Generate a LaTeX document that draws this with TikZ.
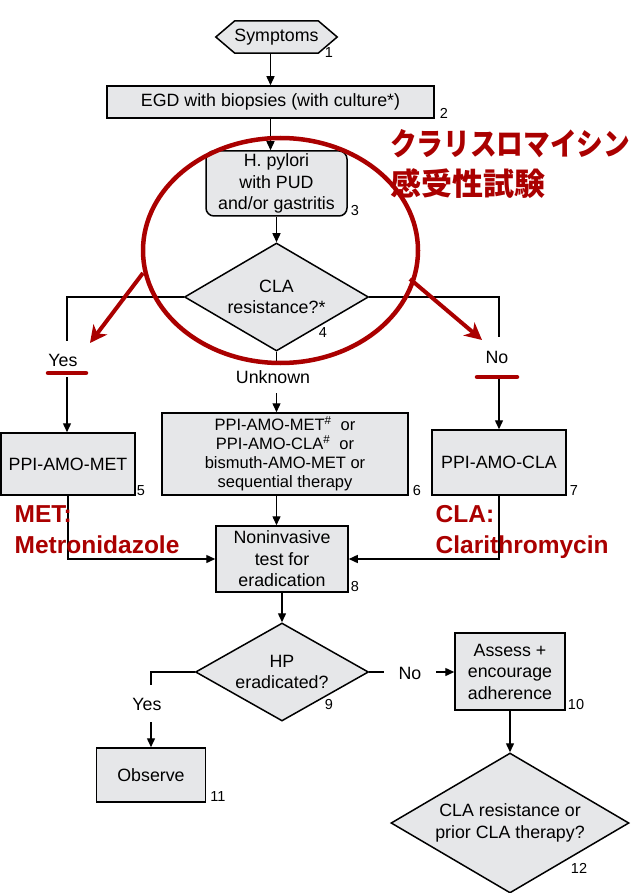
\documentclass[tikz,border=0pt]{standalone}
\usepackage{fontspec}
\setmainfont{Liberation Sans}
\newfontfamily\jpfont{Noto Sans CJK JP}
\usetikzlibrary{shapes.geometric,arrows.meta,backgrounds,calc}
\definecolor{boxfill}{RGB}{230,231,233}
\definecolor{redc}{RGB}{170,0,0}
\newcommand{\mainsz}{\fontsize{17.8}{21.5}\selectfont}
\newcommand{\smallsz}{\fontsize{16.5}{19}\selectfont}
\newcommand{\numsz}{\fontsize{14.5}{16}\selectfont}
\newcommand{\redsz}{\fontsize{24.5}{28}\selectfont\bfseries}
\newcommand{\jpsz}{\fontsize{31}{36}\selectfont\bfseries}
\begin{document}
\begin{tikzpicture}[x=1pt,y=-1pt,
  box/.style={draw=black, fill=boxfill, line width=1.5pt, inner sep=0pt, align=center, font=\mainsz},
  dia/.style={diamond, draw=black, fill=boxfill, line width=1.5pt, inner sep=0pt, shape aspect=1.7, align=center, font=\mainsz},
  conn/.style={line width=1.4pt},
  arr/.style={conn, -{Triangle[length=9pt,width=8pt]}},
  lbl/.style={font=\mainsz, inner sep=0pt},
  num/.style={font=\numsz, inner sep=0pt},
  redbar/.style={draw=redc, line width=4.5pt, line cap=round},
  redarrow/.style={draw=redc, line width=4pt, -{Stealth[length=17pt,width=17pt,inset=5pt]}},
  redtext/.style={text=redc, font=\redsz, inner sep=0pt, anchor=base west},
  jptext/.style={text=redc, inner sep=0pt, anchor=base west}]
\useasboundingbox (0,0) rectangle (636,893);

% nodes
\node[lbl, minimum width=121pt, minimum height=32pt] (sym) at (276.5,37) {Symptoms};
\begin{scope}[on background layer]
\filldraw[draw=black, fill=boxfill, line width=1.5pt]
  (sym.west) -- ($(sym.north west)+(19,0)$) -- ($(sym.north east)+(-19,0)$) -- (sym.east)
  -- ($(sym.south east)+(-19,0)$) -- ($(sym.south west)+(19,0)$) -- cycle;
\end{scope}
\node[box, minimum width=327pt, minimum height=32pt] (egd) at (270.5,102) {EGD with biopsies (with culture*)};
\node[box, rounded corners=8pt, minimum width=141pt, minimum height=65pt] (hp) at (276.5,183.5) {H. pylori\\with PUD\\and/or gastritis};
\node[dia, minimum width=184pt, minimum height=108pt] (d4) at (276.5,297) {CLA\\resistance?*};
\node[box, minimum width=134pt, minimum height=62pt] (box5) at (68,464) {PPI-AMO-MET};
\node[box, font=\smallsz, minimum width=246pt, minimum height=82pt] (box6) at (285,454)
  {PPI-AMO-MET\textsuperscript{\#}\ \ or\\PPI-AMO-CLA\textsuperscript{\#}\ \ or\\bismuth-AMO-MET or\\sequential therapy};
\node[box, minimum width=134pt, minimum height=65pt] (box7) at (499,462.5) {PPI-AMO-CLA};
\node[box, minimum width=132pt, minimum height=66pt] (box8) at (282,559) {Noninvasive\\test for\\eradication};
\node[dia, minimum width=173pt, minimum height=98pt] (d9) at (282,672) {HP\\eradicated?};
\node[box, minimum width=110pt, minimum height=77pt] (box10) at (510,671.5) {Assess +\\encourage\\adherence};
\node[box, minimum width=109pt, minimum height=54pt] (box11) at (151,775) {Observe};
\node[dia, minimum width=238pt, minimum height=140pt] (d12) at (510,823) {CLA resistance or\\prior CLA therapy?};

% branch labels
\node[lbl] (yes) at (63,360) {Yes};
\node[lbl] (no) at (497,357) {No};
\node[lbl] (unk) at (273,377) {Unknown};
\node[lbl] (yes2) at (147,704) {Yes};
\node[lbl] (no2) at (410,673) {No};

% numbers
\node[num] (n1) at (329,53) {1};
\node[num] (n2) at (444,113) {2};
\node[num] (n3) at (355,211) {3};
\node[num] (n4) at (323,333) {4};
\node[num] (n5) at (141,491) {5};
\node[num] (n6) at (417,491) {6};
\node[num] (n7) at (574,491) {7};
\node[num] (n8) at (355,587) {8};
\node[num] (n9) at (329,705) {9};
\node[num] (n10) at (576,705) {10};
\node[num] (n11) at (218,797) {11};
\node[num] (n12) at (579,868) {12};

% free ends
\coordinate (yesTop) at (67,341);
\coordinate (yesBot) at (67,377);
\coordinate (noTop) at (499,337);
\coordinate (noBot) at (499,377);
\coordinate (unkTop) at (276.5,362);
\coordinate (unkBot) at (276.5,393);
\coordinate (yes2Top) at (151,685);
\coordinate (yes2Bot) at (151,722);
\coordinate (no2L) at (384,672);
\coordinate (no2R) at (436,672);

% connectors
\draw[arr] (sym.south -| egd.north) -- (egd.north);
\draw[arr] (egd.south) -- (egd.south |- hp.north);
\draw[arr] (hp.south) -- (d4.north);
\draw[conn] (d4.west) -| (yesTop);
\draw[arr] (yesBot) -- (yesBot |- box5.north);
\draw[conn] (d4.east) -| (noTop);
\draw[arr] (noBot) -- (noBot |- box7.north);
\draw[conn] (d4.south) -- (unkTop);
\draw[arr] (unkBot) -- (unkBot |- box6.north);
\draw[arr] (box6.south -| d4.south) -- (box8.north -| d4.south);
\draw[arr] (box5.south) |- (box8.west);
\draw[arr] (box7.south) |- (box8.east);
\draw[arr] (box8.south) -- (d9.north);
\draw[conn] (d9.west) -| (yes2Top);
\draw[arr] (yes2Bot) -- (yes2Bot |- box11.north);
\draw[conn] (d9.east) -- (no2L);
\draw[arr] (no2R) -- (no2R -| box10.west);
\draw[arr] (box10.south) -- (d12.north);

% red annotations
\draw[draw=redc, line width=4.5pt] (280.5,250.5) ellipse [x radius=137.5pt, y radius=112.5pt];
\coordinate (ra1s) at (143,273);
\coordinate (ra1e) at (90,343);
\coordinate (ra2s) at (410,279);
\coordinate (ra2e) at (482,340);
\draw[redarrow] (ra1s) -- (ra1e);
\draw[redarrow] (ra2s) -- (ra2e);
\draw[redbar] (48,373) -- (86,373);
\draw[redbar] (477,377) -- (517,377);

\node[jptext, font=\jpfont\jpsz] (jp1) at (390,156) {\resizebox{240pt}{\height}{クラリスロマイシン}};
\node[jptext, font=\jpfont\jpsz] (jp2) at (390,196) {感受性試験};
\node[redtext] (met1) at (14.5,522) {MET:};
\node[redtext] (met2) at (14.5,553) {Metronidazole};
\node[redtext] (cla1) at (435.5,522) {CLA:};
\node[redtext] (cla2) at (435.5,553) {Clarithromycin};
\end{tikzpicture}
\end{document}
